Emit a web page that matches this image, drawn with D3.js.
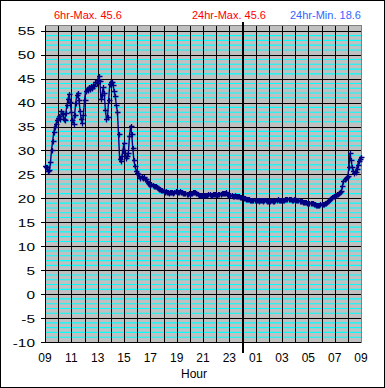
<!DOCTYPE html>
<head>
  <meta charset="utf-8">
  <script src="https://d3js.org/d3.v7.min.js"></script>
  <style>
    body { margin:0; background:#fff; }
    text { font-family: "Liberation Sans", Arial, sans-serif; }
  </style>
</head>

<body>
  <script>

    var width = 385,
        height = 388;

    // temperature, one reading every 5 minutes from 09:00 to 09:00 next day
    var stepMinutes = 5;
    var temps = [
      26.8, 26.5, 26.6, 25.7, 25.9, 27.5, 30.2, 32.0, 33.8, 35.0, 35.5, 36.4,
      36.8, 37.3, 36.5, 38.3, 37.6, 36.6, 36.4, 37.8, 39.5, 40.8, 41.8, 40.2,
      38.0, 36.4, 35.6, 37.5, 40.0, 41.6, 42.0, 40.5, 38.2, 36.5, 35.7, 37.5,
      40.5, 42.5, 42.9, 42.6, 43.2, 42.8, 43.4, 43.0, 43.7, 43.4, 44.2, 44.0,
      44.8, 45.6, 44.5, 40.8, 41.5, 43.2, 42.0, 38.5, 36.6, 37.0, 40.5, 43.8,
      44.4, 44.2, 43.6, 42.5, 41.4, 39.5, 38.0, 33.5, 28.2, 27.8, 28.8, 30.0,
      31.6, 29.5, 28.5, 28.8, 29.5, 33.0, 35.2, 33.5, 30.5, 28.0, 26.7, 25.8,
      25.3, 25.0, 24.6, 24.3, 24.4, 24.2, 24.5, 24.1, 24.0, 23.6, 23.3, 23.0,
      22.8, 22.9, 22.7, 22.6, 22.5, 22.6, 22.3, 22.2, 22.0, 21.9, 21.7, 21.8,
      21.6, 21.4, 21.5, 21.4, 21.4, 21.2, 21.3, 21.4, 21.3, 21.2, 21.4, 21.5,
      21.4, 21.3, 21.3, 21.5, 21.4, 21.3, 21.2, 21.1, 21.1, 21.0, 21.0, 21.1,
      21.0, 21.1, 21.2, 21.4, 21.4, 21.3, 21.1, 20.9, 20.8, 20.7, 20.7, 20.8,
      20.7, 20.6, 20.8, 20.7, 20.7, 20.9, 20.9, 20.8, 20.8, 20.9, 20.9, 21.0,
      20.9, 20.8, 21.0, 21.0, 20.9, 21.1, 21.1, 21.2, 21.2, 21.3, 20.9, 20.8,
      20.7, 20.6, 20.6, 20.5, 20.5, 20.6, 20.5, 20.4, 20.4, 20.4, 20.3, 20.2,
      20.2, 20.1, 20.0, 19.9, 19.9, 19.8, 19.8, 19.7, 19.7, 19.6, 19.7, 19.6,
      19.7, 19.6, 19.6, 19.5, 19.7, 19.6, 19.6, 19.5, 19.6, 19.7, 19.5, 19.4,
      19.6, 19.5, 19.7, 19.7, 19.5, 19.4, 19.6, 19.6, 19.8, 19.7, 19.7, 19.6,
      19.6, 19.7, 19.7, 19.8, 19.8, 19.9, 19.9, 19.8, 19.8, 19.7, 19.7, 19.8,
      19.8, 19.7, 19.7, 19.6, 19.5, 19.5, 19.4, 19.3, 19.3, 19.3, 19.2, 19.1,
      19.1, 19.0, 19.0, 19.0, 19.0, 18.9, 18.8, 18.7, 18.6, 18.7, 18.7, 18.8,
      18.8, 18.8, 18.9, 19.0, 19.1, 19.2, 19.4, 19.6, 19.8, 20.0, 20.3, 20.5,
      20.7, 20.8, 20.9, 21.0, 21.1, 21.3, 21.6, 22.5, 23.7, 24.0, 24.3, 24.4,
      24.6, 26.5, 29.4, 28.0, 26.5, 25.8, 25.3, 25.6, 26.2, 27.0, 27.8, 28.3,
      28.7
    ];

    var hourLabels = ["09", "11", "13", "15", "17", "19", "21", "23", "01", "03", "05", "07", "09"];
    var yTickValues = [-10, -5, 0, 5, 10, 15, 20, 25, 30, 35, 40, 45, 50, 55];
    var titles = ["6hr-Max. 45.6", "24hr-Max. 45.6", "24hr-Min. 18.6"];
    var midnightHour = 15;

    var svg = d3.select("body").append("svg")
      .attr("width", width)
      .attr("height", height);

    svg.append("rect")
      .attr("x", 0.5).attr("y", 0.5)
      .attr("width", width - 1).attr("height", height - 1)
      .attr("fill", "#fff").attr("stroke", "#000");

    var x = d3.scaleLinear().domain([0, 24]).range([45, 361]);
    var y = d3.scaleLinear().domain([-10, 56]).range([342, 26]);

    var crisp = function(v) { return Math.round(v) + 0.5; };

    svg.append("rect")
      .attr("x", x(0)).attr("y", y(56))
      .attr("width", x(24) - x(0)).attr("height", y(-10) - y(56))
      .attr("fill", "#c0c0c0");

    // cyan minor lines every degree
    var minor = d3.range(-9, 56).filter(function(d) { return d % 5 != 0; });
    svg.append("g").selectAll("line").data(minor).enter()
      .append("line")
      .attr("x1", x(0)).attr("x2", x(24))
      .attr("y1", function(d) { return y(d); })
      .attr("y2", function(d) { return y(d); })
      .attr("stroke", "#00ffff")
      .attr("stroke-width", 1.1);

    // black major lines every 5
    svg.append("g").selectAll("line").data(yTickValues).enter()
      .append("line")
      .attr("x1", 41).attr("x2", x(24))
      .attr("y1", function(d) { return crisp(y(d)); })
      .attr("y2", function(d) { return crisp(y(d)); })
      .attr("stroke", "#000");

    svg.append("g").selectAll("line").data(d3.range(0, 24)).enter()
      .append("line")
      .attr("x1", function(d) { return crisp(x(d)); })
      .attr("x2", function(d) { return crisp(x(d)); })
      .attr("y1", y(56)).attr("y2", y(-10) + 1)
      .attr("stroke", "#000");

    svg.append("rect")
      .attr("x", x(0) + 0.5).attr("y", crisp(y(56)) - 1)
      .attr("width", x(24) - x(0)).attr("height", crisp(y(-10)) - crisp(y(56)) + 1)
      .attr("fill", "none").attr("stroke", "#808080");

    svg.append("line")
      .attr("x1", x(0) + 0.5).attr("x2", x(0) + 0.5)
      .attr("y1", y(56)).attr("y2", y(-10) + 1)
      .attr("stroke", "#000");
    svg.append("line")
      .attr("x1", 41).attr("x2", x(24))
      .attr("y1", crisp(y(-10))).attr("y2", crisp(y(-10)))
      .attr("stroke", "#000");

    // midnight marker
    svg.append("line")
      .attr("x1", Math.round(x(midnightHour))).attr("x2", Math.round(x(midnightHour)))
      .attr("y1", 22).attr("y2", 353)
      .attr("stroke", "#000").attr("stroke-width", 2);

    // y labels (stretched wide like the original)
    svg.append("g").selectAll("text").data(yTickValues).enter()
      .append("text")
      .attr("transform", function(d) { return "translate(35," + (y(d) + 4.5) + ") scale(1.4,1)"; })
      .attr("text-anchor", "end")
      .attr("font-size", "11px")
      .text(function(d) { return d; });

    svg.append("g").selectAll("text").data(hourLabels).enter()
      .append("text")
      .attr("x", function(d, i) { return x(i * 2); })
      .attr("y", 362)
      .attr("text-anchor", "middle")
      .attr("font-size", "12px")
      .text(function(d) { return d; });

    svg.append("text")
      .attr("x", 194).attr("y", 378)
      .attr("text-anchor", "middle")
      .attr("font-size", "12px")
      .text("Hour");

    var titleX = [54, 192, 290],
        titleColor = ["#ff0000", "#ff0000", "#3366ff"];
    svg.append("g").selectAll("text").data(titles).enter()
      .append("text")
      .attr("x", function(d, i) { return titleX[i]; })
      .attr("y", 19)
      .attr("font-size", "11px")
      .attr("fill", function(d, i) { return titleColor[i]; })
      .text(function(d) { return d; });

    var pts = temps.map(function(v, i) { return [x(i * stepMinutes / 60), y(v)]; });

    svg.append("path")
      .attr("d", d3.line()(pts))
      .attr("fill", "none")
      .attr("stroke", "#000080")
      .attr("stroke-width", 1.4);

    svg.append("g").selectAll("path").data(pts).enter()
      .append("path")
      .attr("d", function(p) {
        var px = Math.round(p[0]) + 0.5, py = Math.round(p[1]) + 0.5;
        return "M" + (px - 2.5) + "," + py + "H" + (px + 3) + "M" + px + "," + (py - 2.5) + "V" + (py + 3);
      })
      .attr("stroke", "#000080")
      .attr("stroke-width", 1.3)
      .attr("fill", "none");

  </script>
</body>
